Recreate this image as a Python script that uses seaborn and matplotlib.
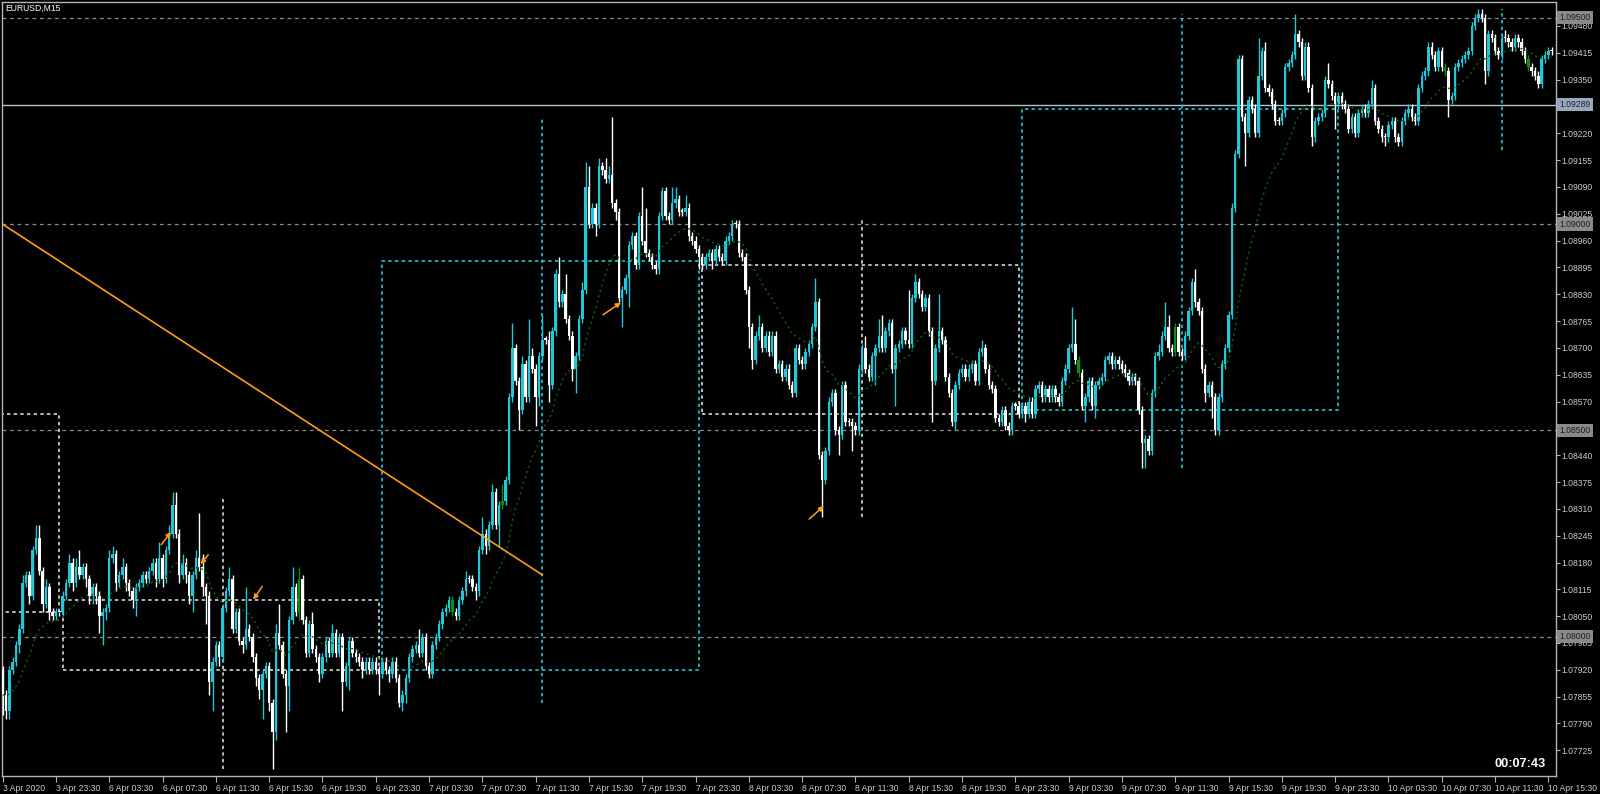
#!/usr/bin/env python3

import numpy as np
import pandas as pd
import matplotlib
matplotlib.use('Agg')
import matplotlib.pyplot as plt
import seaborn as sns
from matplotlib.patches import Rectangle
from matplotlib.transforms import blended_transform_factory

# EURUSD M15 closes, 3 Apr 19:30 .. 10 Apr 15:45 (open of a bar = previous close)
close = [
    1.0786, 1.0782, 1.0792, 1.0794, 1.0798, 1.0802, 1.0813, 1.0815, 1.0810, 1.0821, 1.0824, 1.0816,
    1.0808, 1.0812, 1.0806, 1.0805, 1.0806, 1.0806, 1.0810, 1.0813, 1.0818, 1.0813, 1.0817, 1.0815,
    1.0817, 1.0814, 1.0810, 1.0812, 1.0810, 1.0805, 1.0806, 1.0807, 1.0819, 1.0820, 1.0813, 1.0815,
    1.0817, 1.0813, 1.0811, 1.0809, 1.0812, 1.0813, 1.0815, 1.0814, 1.0816, 1.0818, 1.0814, 1.0819,
    1.0814, 1.0821, 1.0825, 1.0832, 1.0825, 1.0815, 1.0818, 1.0815, 1.0810, 1.0815, 1.0819, 1.0817,
    1.0812, 1.0810, 1.0789, 1.0794, 1.0798, 1.0795, 1.0807, 1.0811, 1.0814, 1.0802, 1.0806, 1.0799,
    1.0798, 1.0802, 1.0800, 1.0795, 1.0790, 1.0787, 1.0791, 1.0793, 1.0784, 1.0777, 1.0801, 1.0798,
    1.0791, 1.0788, 1.0804, 1.0812, 1.0806, 1.0814, 1.0804, 1.0796, 1.0803, 1.0797, 1.0795, 1.0791,
    1.0795, 1.0799, 1.0796, 1.0801, 1.0796, 1.0800, 1.0789, 1.0793, 1.0799, 1.0796, 1.0795, 1.0794,
    1.0792, 1.0794, 1.0792, 1.0794, 1.0792, 1.0791, 1.0794, 1.0792, 1.0791, 1.0794, 1.0790, 1.0784,
    1.0786, 1.0790, 1.0795, 1.0797, 1.0798, 1.0796, 1.0800, 1.0793, 1.0791, 1.0798, 1.0800, 1.0803,
    1.0806, 1.0807, 1.0809, 1.0806, 1.0805, 1.0809, 1.0811, 1.0814, 1.0814, 1.0812, 1.0811, 1.0821,
    1.0825, 1.0822, 1.0827, 1.0835, 1.0827, 1.0832, 1.0833, 1.0838, 1.0858, 1.0870, 1.0862, 1.0855,
    1.0866, 1.0858, 1.0868, 1.0865, 1.0858, 1.0868, 1.0872, 1.0872, 1.0861, 1.0874, 1.0888, 1.0881,
    1.0883, 1.0877, 1.0873, 1.0865, 1.0868, 1.0877, 1.0884, 1.0909, 1.0900, 1.0904, 1.0900, 1.0914,
    1.0913, 1.0911, 1.0912, 1.0905, 1.0903, 1.0882, 1.0884, 1.0887, 1.0895, 1.0897, 1.0890, 1.0902,
    1.0896, 1.0893, 1.0892, 1.0890, 1.0889, 1.0902, 1.0908, 1.0902, 1.0901, 1.0905, 1.0906, 1.0903,
    1.0903, 1.0904, 1.0897, 1.0896, 1.0894, 1.0892, 1.0890, 1.0892, 1.0893, 1.0891, 1.0894, 1.0892,
    1.0891, 1.0896, 1.0897, 1.0900, 1.0900, 1.0893, 1.0892, 1.0884, 1.0875, 1.0867, 1.0873, 1.0875,
    1.0870, 1.0873, 1.0869, 1.0873, 1.0865, 1.0866, 1.0863, 1.0865, 1.0861, 1.0859, 1.0870, 1.0867,
    1.0866, 1.0869, 1.0871, 1.0875, 1.0881, 1.0844, 1.0838, 1.0845, 1.0857, 1.0859, 1.0850, 1.0849,
    1.0861, 1.0852, 1.0852, 1.0851, 1.0850, 1.0865, 1.0870, 1.0865, 1.0863, 1.0868, 1.0870, 1.0873,
    1.0870, 1.0874, 1.0876, 1.0865, 1.0870, 1.0871, 1.0874, 1.0872, 1.0871, 1.0882, 1.0886, 1.0883,
    1.0880, 1.0882, 1.0874, 1.0862, 1.0870, 1.0874, 1.0872, 1.0863, 1.0859, 1.0852, 1.0861, 1.0864,
    1.0865, 1.0863, 1.0865, 1.0866, 1.0862, 1.0869, 1.0870, 1.0865, 1.0861, 1.0860, 1.0853, 1.0852,
    1.0855, 1.0851, 1.0850, 1.0856, 1.0856, 1.0854, 1.0856, 1.0854, 1.0857, 1.0854, 1.0860, 1.0861,
    1.0858, 1.0860, 1.0858, 1.0860, 1.0858, 1.0857, 1.0862, 1.0865, 1.0870, 1.0871, 1.0867, 1.0864,
    1.0856, 1.0858, 1.0862, 1.0856, 1.0861, 1.0862, 1.0863, 1.0867, 1.0868, 1.0866, 1.0867, 1.0866,
    1.0865, 1.0864, 1.0862, 1.0863, 1.0862, 1.0855, 1.0847, 1.0848, 1.0845, 1.0859, 1.0868, 1.0869,
    1.0873, 1.0875, 1.0870, 1.0869, 1.0875, 1.0869, 1.0868, 1.0873, 1.0879, 1.0886, 1.0881, 1.0879,
    1.0865, 1.0859, 1.0861, 1.0858, 1.0850, 1.0858, 1.0866, 1.0870, 1.0878, 1.0904, 1.0917, 1.0940,
    1.0926, 1.0922, 1.0930, 1.0928, 1.0922, 1.0936, 1.0942, 1.0933, 1.0932, 1.0929, 1.0925, 1.0925,
    1.0927, 1.0938, 1.0939, 1.0941, 1.0946, 1.0944, 1.0936, 1.0943, 1.0933, 1.0921, 1.0925, 1.0926,
    1.0927, 1.0935, 1.0934, 1.0931, 1.0929, 1.0931, 1.0929, 1.0928, 1.0923, 1.0926, 1.0922, 1.0927,
    1.0928, 1.0927, 1.0929, 1.0933, 1.0925, 1.0923, 1.0921, 1.0921, 1.0924, 1.0925, 1.0921, 1.0920,
    1.0925, 1.0927, 1.0928, 1.0926, 1.0925, 1.0933, 1.0936, 1.0937, 1.0943, 1.0941, 1.0938, 1.0942,
    1.0938, 1.0937, 1.0930, 1.0931, 1.0938, 1.0939, 1.0940, 1.0941, 1.0942, 1.0948, 1.0950, 1.0951,
    1.0950, 1.0937, 1.0946, 1.0945, 1.0942, 1.0941, 1.0945, 1.0945, 1.0944, 1.0943, 1.0945, 1.0944,
    1.0942, 1.0940, 1.0938, 1.0937, 1.0936, 1.0934, 1.0940, 1.0941, 1.0942, 1.0942,
]
# wick length above / below the body, in pips
up_wick = [
    1, 1, 1, 1, 1, 1, 2, 1, 1, 1, 3, 3,
    1, 2, 1, 1, 1, 0, 1, 1, 2, 1, 2, 4,
    1, 1, 1, 1, 1, 1, 1, 1, 2, 2, 1, 1,
    2, 1, 1, 1, 1, 1, 1, 1, 1, 1, 1, 4,
    1, 1, 2, 3, 3, 1, 2, 1, 1, 1, 2, 11,
    3, 1, 1, 1, 1, 1, 1, 1, 3, 1, 1, 1,
    1, 10, 1, 1, 1, 1, 1, 1, 1, 1, 2, 7,
    1, 1, 1, 5, 1, 3, 1, 1, 1, 3, 1, 1,
    1, 1, 1, 2, 1, 1, 1, 1, 1, 1, 1, 1,
    1, 1, 1, 1, 1, 1, 1, 1, 1, 1, 1, 1,
    1, 1, 1, 1, 1, 4, 1, 1, 1, 1, 1, 1,
    1, 1, 1, 1, 1, 1, 1, 2, 1, 1, 1, 1,
    4, 1, 1, 2, 1, 1, 4, 1, 1, 6, 1, 1,
    2, 1, 9, 2, 1, 1, 6, 1, 2, 1, 1, 4,
    1, 5, 1, 1, 1, 1, 2, 6, 5, 1, 1, 2,
    1, 3, 2, 14, 1, 1, 1, 1, 1, 1, 1, 1,
    7, 8, 1, 1, 1, 1, 1, 1, 1, 4, 3, 1,
    1, 3, 1, 1, 1, 1, 1, 1, 1, 1, 1, 1,
    1, 1, 1, 1, 1, 1, 1, 1, 1, 1, 1, 3,
    1, 1, 1, 1, 1, 1, 1, 1, 1, 1, 1, 1,
    1, 1, 1, 1, 6, 1, 1, 1, 1, 1, 1, 1,
    1, 1, 1, 1, 1, 1, 1, 3, 1, 1, 1, 4,
    5, 1, 1, 1, 1, 1, 1, 1, 12, 1, 2, 1,
    1, 1, 1, 1, 1, 9, 1, 1, 1, 1, 1, 1,
    1, 1, 1, 1, 1, 1, 2, 1, 1, 1, 1, 1,
    1, 1, 1, 1, 1, 1, 1, 1, 1, 1, 1, 1,
    1, 1, 1, 1, 1, 1, 1, 1, 1, 9, 6, 1,
    1, 1, 1, 1, 1, 1, 1, 1, 1, 1, 1, 1,
    1, 1, 1, 1, 1, 1, 1, 1, 1, 1, 1, 2,
    1, 6, 3, 1, 1, 1, 1, 1, 1, 1, 3, 1,
    1, 1, 1, 1, 1, 1, 1, 1, 1, 1, 1, 1,
    1, 1, 1, 1, 1, 9, 1, 2, 1, 1, 1, 1,
    1, 1, 1, 1, 5, 1, 1, 1, 1, 1, 1, 1,
    1, 1, 4, 1, 1, 1, 1, 1, 1, 1, 1, 1,
    1, 1, 1, 2, 1, 1, 1, 1, 1, 1, 1, 1,
    1, 1, 1, 1, 1, 1, 1, 1, 1, 1, 1, 1,
    1, 1, 1, 1, 1, 1, 1, 1, 1, 1, 1, 1,
    1, 1, 1, 1, 1, 1, 1, 2, 1, 1, 1, 1,
    1, 1, 1, 1, 1, 1, 1, 1, 1, 1,
]
lo_wick = [
    5, 2, 2, 1, 1, 2, 1, 1, 2, 1, 1, 1,
    2, 1, 2, 1, 1, 1, 1, 1, 1, 2, 1, 1,
    1, 2, 2, 2, 2, 4, 7, 2, 1, 1, 2, 1,
    1, 2, 1, 2, 4, 1, 1, 1, 1, 1, 2, 1,
    2, 1, 1, 1, 1, 2, 1, 2, 2, 4, 1, 1,
    2, 7, 3, 7, 1, 2, 1, 1, 1, 1, 1, 1,
    2, 1, 1, 1, 2, 2, 7, 1, 2, 9, 2, 1,
    1, 11, 6, 1, 1, 2, 1, 1, 1, 1, 1, 2,
    1, 1, 1, 1, 1, 1, 7, 1, 6, 1, 1, 1,
    2, 1, 1, 1, 1, 5, 1, 1, 2, 1, 1, 1,
    2, 2, 1, 1, 1, 1, 1, 1, 1, 1, 1, 1,
    1, 1, 1, 1, 1, 1, 1, 1, 1, 1, 2, 1,
    1, 2, 1, 1, 1, 5, 1, 1, 1, 1, 1, 5,
    1, 1, 1, 1, 7, 2, 1, 1, 4, 1, 1, 1,
    1, 1, 1, 3, 6, 1, 1, 1, 1, 1, 3, 1,
    1, 1, 1, 1, 2, 1, 7, 1, 7, 1, 1, 1,
    1, 1, 1, 1, 1, 1, 1, 1, 1, 1, 1, 1,
    1, 1, 1, 1, 1, 3, 1, 1, 1, 2, 1, 1,
    1, 1, 1, 1, 1, 1, 1, 1, 5, 2, 1, 1,
    1, 1, 1, 1, 1, 1, 1, 1, 1, 1, 1, 1,
    1, 1, 1, 1, 1, 1, 9, 1, 1, 1, 1, 5,
    1, 1, 1, 6, 1, 1, 1, 1, 1, 1, 7, 1,
    1, 1, 1, 1, 9, 1, 1, 1, 1, 1, 1, 1,
    1, 1, 1, 10, 1, 1, 1, 1, 1, 1, 2, 1,
    1, 1, 1, 1, 1, 1, 1, 1, 1, 1, 1, 1,
    1, 1, 1, 1, 1, 1, 1, 2, 1, 1, 1, 1,
    1, 1, 1, 1, 1, 1, 1, 1, 1, 1, 1, 1,
    1, 4, 1, 1, 3, 1, 1, 1, 1, 1, 1, 1,
    1, 1, 1, 1, 1, 1, 6, 6, 1, 1, 1, 1,
    1, 1, 1, 1, 1, 1, 1, 1, 1, 1, 1, 1,
    1, 2, 1, 5, 1, 1, 1, 1, 1, 1, 1, 1,
    1, 8, 1, 1, 1, 1, 1, 1, 1, 1, 1, 1,
    1, 1, 1, 1, 1, 1, 1, 1, 1, 2, 1, 1,
    1, 1, 1, 1, 6, 1, 1, 1, 1, 1, 1, 1,
    1, 1, 1, 1, 1, 1, 1, 2, 1, 1, 1, 1,
    1, 1, 1, 1, 1, 1, 1, 1, 1, 1, 1, 1,
    1, 1, 4, 1, 1, 1, 1, 1, 1, 1, 1, 1,
    1, 3, 1, 1, 1, 1, 1, 1, 1, 1, 1, 1,
    1, 1, 1, 1, 1, 1, 1, 1, 1, 1,
]
green_bars = [89, 135, 150, 323, 352, 433, 458]
first_open = 1.0792
pip = 0.0001

# daily candles drawn as dotted boxes (body) and a dotted line (range)
day_first_bar = [-78, 18, 114, 210, 306, 402]
day_open = [1.0854, 1.0809, 1.0792, 1.0890, 1.0855, 1.0929]
day_high = [1.0867, 1.0834, 1.0926, 1.0901, 1.0951, 1.0952]
day_low = [1.0778, 1.0768, 1.0784, 1.0829, 1.0841, 1.0918]
day_close = [1.0806, 1.0792, 1.0891, 1.0854, 1.0928, 1.0942]

round_levels = [1.0800, 1.0850, 1.0900, 1.0950]
hline_level = 1.09289

trend_bars = [-2, 162]
trend_prices = [1.0901, 1.0815]

arrow_head_bar = [50.5, 59.4, 75.2, 185.6, 246.5]
arrow_head_price = [1.08254, 1.08176, 1.08090, 1.08810, 1.08317]
arrow_tail_bar = [47.6, 61.7, 77.9, 180.2, 242.1]
arrow_tail_price = [1.08223, 1.08199, 1.08122, 1.08780, 1.08285]

price_ticks = [1.07725, 1.07790, 1.07855, 1.07920, 1.07985, 1.08050, 1.08115,
               1.08180, 1.08245, 1.08310, 1.08375, 1.08440, 1.08505, 1.08570,
               1.08635, 1.08700, 1.08765, 1.08830, 1.08895, 1.08960, 1.09025,
               1.09090, 1.09155, 1.09220, 1.09285, 1.09350, 1.09415, 1.09480]
time_tick_bars = [0, 16, 32, 48, 64, 80, 96, 112, 128, 144, 160, 176, 192, 208, 224,
                  240, 256, 272, 288, 304, 320, 336, 352, 368, 384, 400, 416, 432, 448, 464]
time_tick_labels = ['3 Apr 2020', '3 Apr 23:30',
                    '6 Apr 03:30', '6 Apr 07:30', '6 Apr 11:30', '6 Apr 15:30', '6 Apr 19:30', '6 Apr 23:30',
                    '7 Apr 03:30', '7 Apr 07:30', '7 Apr 11:30', '7 Apr 15:30', '7 Apr 19:30', '7 Apr 23:30',
                    '8 Apr 03:30', '8 Apr 07:30', '8 Apr 11:30', '8 Apr 15:30', '8 Apr 19:30', '8 Apr 23:30',
                    '9 Apr 03:30', '9 Apr 07:30', '9 Apr 11:30', '9 Apr 15:30', '9 Apr 19:30', '9 Apr 23:30',
                    '10 Apr 03:30', '10 Apr 07:30', '10 Apr 11:30', '10 Apr 15:30']

CYAN = '#22c8d8'
WHITE = '#ffffff'
GREEN = '#0c900c'
GRID = '#8c8c8c'
AXIS = '#b4b4b4'
TXT = '#cccccc'

sns.set_style('dark', {'axes.facecolor': 'black', 'figure.facecolor': 'black'})
plt.rcParams['font.family'] = ['Liberation Sans', 'DejaVu Sans']

# build candles
df = pd.DataFrame({'close': close, 'up': up_wick, 'lo': lo_wick})
df['bar'] = np.arange(len(df))
df['open'] = df['close'].shift(1).fillna(first_open)
top = df[['open', 'close']].max(axis=1)
bot = df[['open', 'close']].min(axis=1)
df['high'] = top + df['up'] * pip
df['low'] = bot - df['lo'] * pip
colors = np.where(df['close'] > df['open'], CYAN, WHITE).astype(object)
colors[green_bars] = GREEN
body = np.maximum(top - bot, 0.00003)
ma = df['close'].ewm(span=20, adjust=False).mean()

fig = plt.figure(figsize=(16, 7.94), dpi=100, facecolor='black')
ax = fig.add_axes([2 / 1600, 18 / 794, 1554 / 1600, 774 / 794])
ax.set_facecolor('black')
ax.grid(False)

# price levels
for lvl in round_levels:
    ax.axhline(lvl, color=GRID, ls=(0, (3, 3)), lw=0.9, zorder=1)
ax.axhline(hline_level, color='#b8c0cc', lw=1.0, zorder=1)

# daily candle overlay
for i in range(len(day_first_bar)):
    c = CYAN if day_close[i] > day_open[i] else '#d8d8d8'
    x0 = day_first_bar[i]
    if i < len(day_first_bar) - 1:
        ax.add_patch(Rectangle((x0, min(day_open[i], day_close[i])), 95,
                               abs(day_close[i] - day_open[i]), fill=False,
                               ec=c, ls=(0, (2, 2)), lw=1.2, zorder=2))
    ax.vlines(x0 + 48, day_low[i], day_high[i], colors=c, linestyles=(0, (2, 2)),
              lw=1.2, zorder=2)

# candles
ax.vlines(df['bar'], df['low'], df['high'], colors=colors, lw=1.0, zorder=3)
ax.bar(df['bar'], body, bottom=bot, width=0.72, color=colors, lw=0, zorder=4)

# moving average
sns.lineplot(x=df['bar'], y=ma, ax=ax, color='#0a6a0a', lw=1.0,
             linestyle=(0, (1.5, 2.5)), zorder=5)

# trend line
sns.lineplot(x=trend_bars, y=trend_prices, ax=ax, color='#ff9c1a', lw=1.2, zorder=6)

# trade arrows
for hb, hp, tb, tp in zip(arrow_head_bar, arrow_head_price, arrow_tail_bar, arrow_tail_price):
    ax.annotate('', xy=(hb, hp), xytext=(tb, tp),
                arrowprops=dict(arrowstyle='-|>', color='#ff9c1a', lw=1.1,
                                mutation_scale=7, shrinkA=0, shrinkB=0), zorder=7)

ax.set_xlim(-0.21, 466.3)
ax.set_ylim(1.076627, 1.095381)
ax.set_xlabel('')
ax.set_ylabel('')

# axes styling
for s in ax.spines.values():
    s.set_color(AXIS)
    s.set_linewidth(1.0)
    s.set_visible(True)

ax.yaxis.tick_right()
ax.set_yticks(price_ticks)
ax.set_yticklabels([f'{p:.5f}' for p in price_ticks])
ax.set_xticks(time_tick_bars)
ax.set_xticklabels(time_tick_labels)
ax.tick_params(axis='y', which='both', direction='out', length=3, width=0.8,
               colors=AXIS, labelcolor=TXT, labelsize=6.2, pad=1, left=False, right=True)
ax.tick_params(axis='x', which='both', direction='out', length=4, width=0.8,
               colors=AXIS, labelcolor=TXT, labelsize=6.2, pad=1.5, bottom=True)
plt.setp(ax.get_xticklabels(), ha='left')

# highlighted level labels on the price scale
trans = blended_transform_factory(ax.transAxes, ax.transData)
for lvl in round_levels:
    ax.text(1.0022, lvl, f'{lvl:.5f}', transform=trans, ha='left', va='center',
            fontsize=6.2, color='#1c1c1c', clip_on=False, zorder=10,
            bbox=dict(boxstyle='square,pad=0.25', fc='#8a8a8a', ec='none'))
ax.text(1.0022, hline_level, f'{hline_level:.5f}', transform=trans, ha='left',
        va='center', fontsize=6.2, color='#1c2430', clip_on=False, zorder=10,
        bbox=dict(boxstyle='square,pad=0.25', fc='#98a8bc', ec='none'))

fig.text(5 / 1600, 1 - 8 / 794, 'EURUSD,M15', ha='left', va='center',
         fontsize=6.2, color='white')
fig.text(1546 / 1600, 1 - 764 / 794, '00:07:43', ha='right', va='center',
         fontsize=9.2, fontweight='bold', color='white')

fig.savefig('out.png', dpi=100, facecolor='black')
